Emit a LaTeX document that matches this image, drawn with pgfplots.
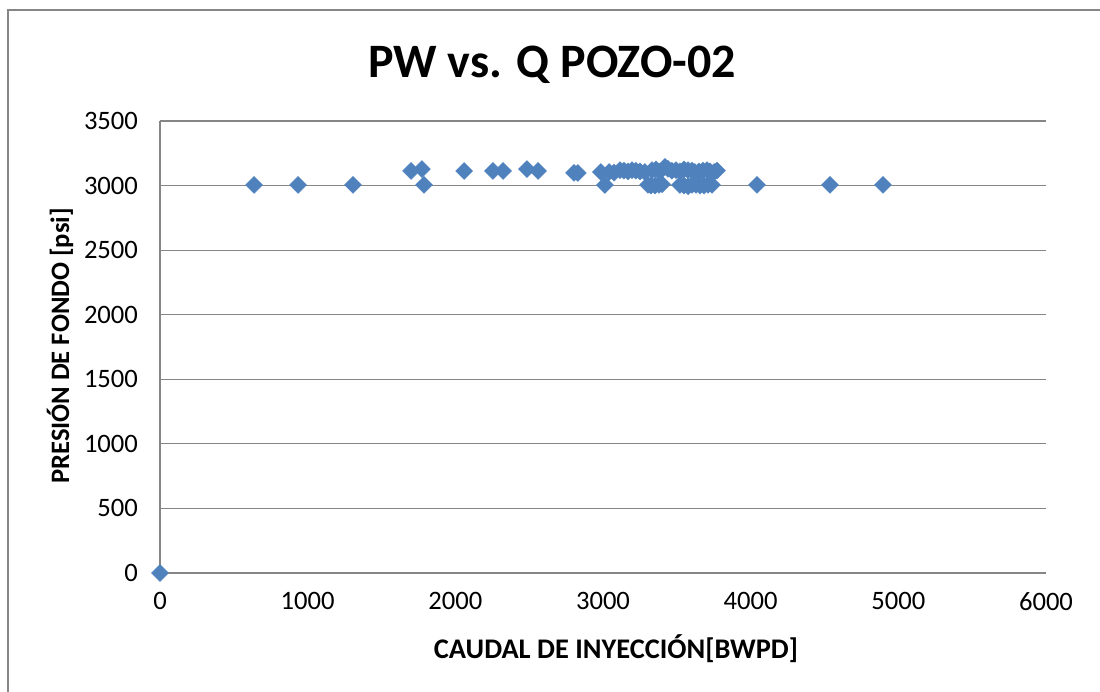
\documentclass[border=0pt]{standalone}
\usepackage{fontspec}
\setmainfont{Carlito}
\usepackage{pgfplots}
\pgfplotsset{compat=1.18}
\definecolor{mk}{HTML}{4F81BD}
\definecolor{gr}{HTML}{868686}
\begin{document}
\begin{tikzpicture}
\useasboundingbox (0,0) rectangle (550pt,346pt);
\draw[gr, line width=1pt] (4pt,-5pt) -- (4pt,341pt) -- (560pt,341pt);
\begin{axis}[
  at={(80pt,59.5pt)}, anchor=south west, scale only axis,
  width=443pt, height=226pt,
  xmin=0, xmax=6000, ymin=0, ymax=3500,
  xtick={0,1000,...,6000}, ytick={0,500,...,3500},
  axis x line=bottom, axis y line=left,
  axis line style={gr, line width=0.6pt, -},
  ymajorgrids, grid style={gr, line width=0.6pt},
  major tick length=0pt,
  tick label style={font=\fontsize{13.3}{16}\selectfont},
  /pgf/number format/assume math mode=true,
  /pgf/number format/set thousands separator={},
  xticklabel style={yshift=-6pt},
  yticklabel style={xshift=-7.5pt},
  clip=false,
]
\addplot[only marks, mark=square*, mark size=3pt,
  mark options={rotate=45, fill=mk, draw=mk, line width=0.2pt}]
coordinates {
(0,0)
(637,3005) (935,3005) (1307,3005)
(1700,3113) (1774,3128) (1788,3005)
(2059,3113) (2255,3113) (2323,3113) (2485,3128) (2560,3113)
(2804,3098) (2830,3098) (2986,3105) (3013,3005)
(3041,3105) (3075,3100) (3115,3120) (3142,3115) (3169,3110)
(3196,3120) (3223,3115) (3250,3110) (3284,3105)
(3332,3120) (3359,3125) (3386,3110) (3420,3145) (3440,3130)
(3467,3115) (3494,3120) (3521,3110) (3548,3125)
(3576,3120) (3603,3115) (3623,3105) (3650,3110) (3677,3115)
(3704,3120) (3725,3110) (3752,3105) (3772,3115)
(3305,3005) (3325,3000) (3352,3000) (3379,3005) (3400,3010)
(3521,3005) (3548,3000) (3576,2995) (3603,3005)
(3630,3005) (3657,3000) (3684,3000) (3711,3005) (3738,3005)
(4043,3005) (4537,3005) (4896,3005)
};
\end{axis}
\node[font=\fontsize{24}{28}\selectfont\bfseries] at (276pt,313.5pt) {PW vs. Q POZO-02};
\node[font=\fontsize{14.2}{17}\selectfont\bfseries] at (308pt,21.5pt) {CAUDAL DE INYECCIÓN[BWPD]};
\node[font=\fontsize{13.3}{16}\selectfont\bfseries, rotate=90] at (30pt,173pt) {PRESIÓN DE FONDO [psi]};
\end{tikzpicture}
\end{document}
